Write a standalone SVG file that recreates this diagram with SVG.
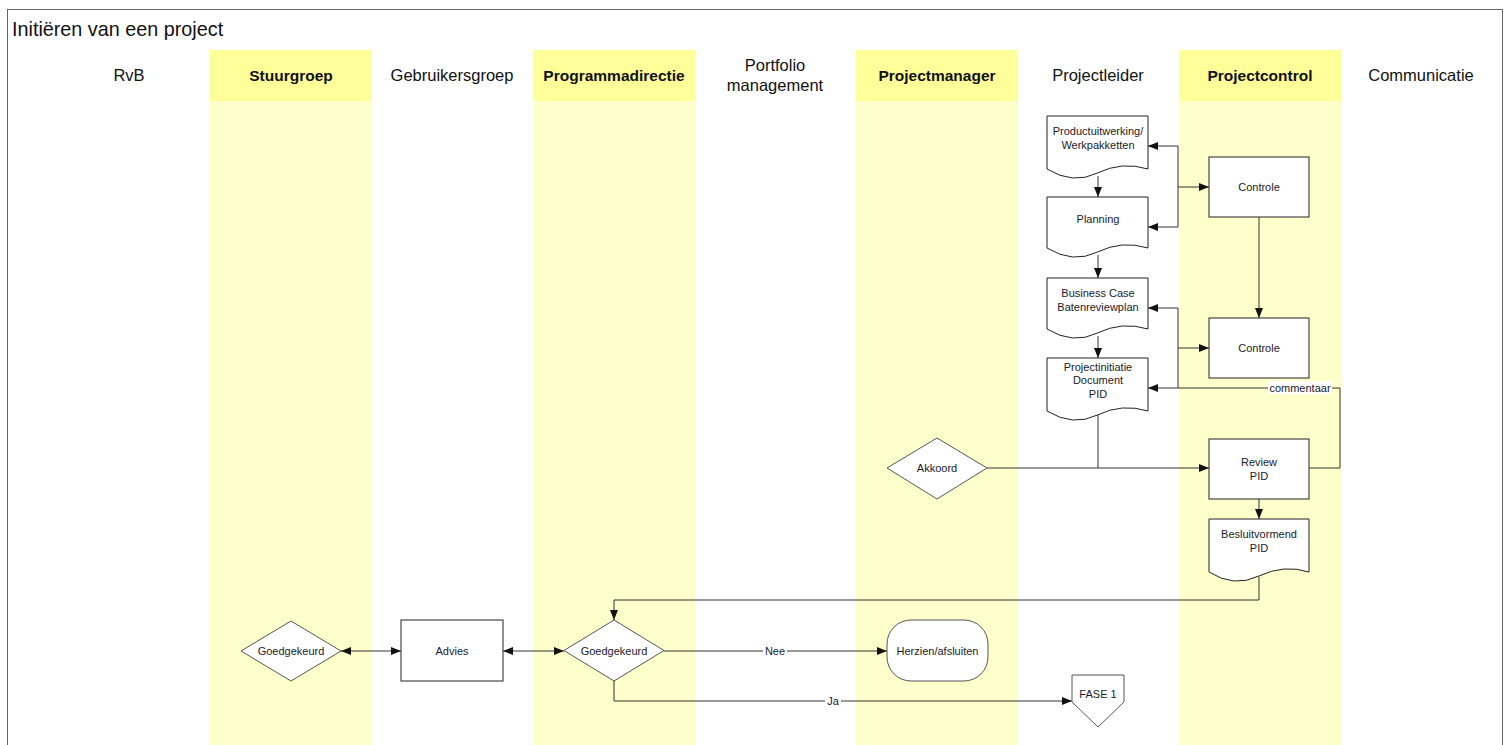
<svg xmlns="http://www.w3.org/2000/svg" width="1510" height="745" viewBox="0 0 1510 745">
  <style>
    .lane { fill: #ffffcc; }
    .lanehdr { fill: #ffff99; }
    .hdr { font-family: "Liberation Sans", Arial, sans-serif; font-size: 16.5px; fill: #111; text-anchor: middle; }
    .hdrb { font-weight: bold; font-size: 15.5px; }
    .title { font-family: "Liberation Sans", Arial, sans-serif; font-size: 19.8px; fill: #111; }
    .shape { fill: #fff; stroke: #222; stroke-width: 1; }
    .dia { fill: #fff; stroke: #555; stroke-width: 1; }
    .lbl { font-family: "Liberation Sans", Arial, sans-serif; font-size: 11px; fill: #1a1a2a; text-anchor: middle; }
    .conn { fill: none; stroke: #333; stroke-width: 1; }
  </style>
  <defs>
    <marker id="arr" viewBox="0 0 10 8" refX="10" refY="4" markerWidth="10" markerHeight="8" markerUnits="userSpaceOnUse" orient="auto-start-reverse">
      <path d="M0,0 L10,4 L0,8 z" fill="#111"/>
    </marker>
  </defs>

  <rect width="1510" height="745" fill="#fff"/>

  <!-- swimlanes -->
  <g id="lanes">
    <rect class="lane" x="210" y="50" width="162" height="700"/>
    <rect class="lane" x="533" y="50" width="162" height="700"/>
    <rect class="lane" x="856" y="50" width="162" height="700"/>
    <rect class="lane" x="1179" y="50" width="162" height="700"/>
    <rect class="lanehdr" x="210" y="50" width="162" height="51"/>
    <rect class="lanehdr" x="533" y="50" width="162" height="51"/>
    <rect class="lanehdr" x="856" y="50" width="162" height="51"/>
    <rect class="lanehdr" x="1179" y="50" width="162" height="51"/>
  </g>

  <!-- frame and title -->
  <rect x="7.5" y="9.5" width="1495" height="745" fill="none" stroke="#666" stroke-width="1"/>
  <text class="title" x="12" y="36">Initiëren van een project</text>

  <g id="headers">
    <text class="hdr" x="129" y="81">RvB</text>
    <text class="hdr hdrb" x="291" y="81">Stuurgroep</text>
    <text class="hdr" x="452" y="81">Gebruikersgroep</text>
    <text class="hdr hdrb" x="614" y="81">Programmadirectie</text>
    <text class="hdr" x="775" y="71">Portfolio</text>
    <text class="hdr" x="775" y="91">management</text>
    <text class="hdr hdrb" x="937" y="81">Projectmanager</text>
    <text class="hdr" x="1098" y="81">Projectleider</text>
    <text class="hdr hdrb" x="1260" y="81">Projectcontrol</text>
    <text class="hdr" x="1421" y="81">Communicatie</text>
  </g>

  <!-- connectors -->
  <g id="connectors">
    <path class="conn" d="M1098,176 V197" marker-end="url(#arr)"/>
    <path class="conn" d="M1098,255 V278" marker-end="url(#arr)"/>
    <path class="conn" d="M1098,336 V358" marker-end="url(#arr)"/>
    <!-- controle 1 loop -->
    <path class="conn" d="M1178,146 H1148" marker-end="url(#arr)"/>
    <path class="conn" d="M1178,146 V227 H1148" marker-end="url(#arr)"/>
    <path class="conn" d="M1178,187 H1209" marker-end="url(#arr)"/>
    <path class="conn" d="M1259,217 V318" marker-end="url(#arr)"/>
    <!-- controle 2 loop -->
    <path class="conn" d="M1178,388 V308 H1148" marker-end="url(#arr)"/>
    <path class="conn" d="M1178,348 H1209" marker-end="url(#arr)"/>
    <!-- commentaar -->
    <path class="conn" d="M1309,468 H1340 V388 H1148" marker-end="url(#arr)"/>
    <rect x="1268" y="381" width="64" height="13" fill="#fff"/>
    <text class="lbl" x="1300" y="392">commentaar</text>
    <!-- PID to review -->
    <path class="conn" d="M1098,414 V468"/>
    <path class="conn" d="M987,468 H1209" marker-end="url(#arr)"/>
    <path class="conn" d="M1259,499 V519" marker-end="url(#arr)"/>
    <path class="conn" d="M1259,577 V600 H614 V620" marker-end="url(#arr)"/>
    <!-- approval -->
    <path class="conn" d="M341,651 H401" marker-start="url(#arr)" marker-end="url(#arr)"/>
    <path class="conn" d="M503,651 H564" marker-start="url(#arr)" marker-end="url(#arr)"/>
    <path class="conn" d="M664,651 H887" marker-end="url(#arr)"/>
    <rect x="763" y="644" width="24" height="13" fill="#fff"/>
    <text class="lbl" x="775" y="655">Nee</text>
    <path class="conn" d="M614,681 V701 H1072" marker-end="url(#arr)"/>
    <rect x="825" y="694" width="16" height="13" fill="#fff"/>
    <text class="lbl" x="833" y="705">Ja</text>
  </g>

  <g id="n-productuitwerking">
    <path class="shape" d="M1047,116 H1148 V169 Q1122,161 1097.5,173 T1047,169 Z"/>
    <text class="lbl" x="1098" y="135">Productuitwerking/</text>
    <text class="lbl" x="1098" y="149">Werkpakketten</text>
  </g>
  <g id="n-planning">
    <path class="shape" d="M1047,197 H1148 V248 Q1122,240 1097.5,252 T1047,248 Z"/>
    <text class="lbl" x="1098" y="223">Planning</text>
  </g>
  <g id="n-businesscase">
    <path class="shape" d="M1047,278 H1148 V329 Q1122,321 1097.5,333 T1047,329 Z"/>
    <text class="lbl" x="1098" y="297">Business Case</text>
    <text class="lbl" x="1098" y="311">Batenreviewplan</text>
  </g>
  <g id="n-pid">
    <path class="shape" d="M1047,358 H1148 V411 Q1122,403 1097.5,415 T1047,411 Z"/>
    <text class="lbl" x="1098" y="371">Projectinitiatie</text>
    <text class="lbl" x="1098" y="384">Document</text>
    <text class="lbl" x="1098" y="398">PID</text>
  </g>
  <g id="n-controle1">
    <rect class="shape" x="1209" y="157" width="100" height="60"/>
    <text class="lbl" x="1259" y="191">Controle</text>
  </g>
  <g id="n-controle2">
    <rect class="shape" x="1209" y="318" width="100" height="60"/>
    <text class="lbl" x="1259" y="352">Controle</text>
  </g>
  <g id="n-review">
    <rect class="shape" x="1209" y="439" width="100" height="60"/>
    <text class="lbl" x="1259" y="466">Review</text>
    <text class="lbl" x="1259" y="480">PID</text>
  </g>
  <g id="n-besluitvormend">
    <path class="shape" d="M1209,519 H1309 V572 Q1284,564 1259,576 T1209,572 Z"/>
    <text class="lbl" x="1259" y="538">Besluitvormend</text>
    <text class="lbl" x="1259" y="552">PID</text>
  </g>
  <g id="n-akkoord">
    <path class="dia" d="M937,438 L987,468 L937,499 L887,468 Z"/>
    <text class="lbl" x="937" y="472">Akkoord</text>
  </g>
  <g id="n-goedgekeurd-sg">
    <path class="dia" d="M291,621 L341,651 L291,681 L241,651 Z"/>
    <text class="lbl" x="291" y="655">Goedgekeurd</text>
  </g>
  <g id="n-advies">
    <rect class="shape" x="401" y="620" width="102" height="61"/>
    <text class="lbl" x="452" y="655">Advies</text>
  </g>
  <g id="n-goedgekeurd-pd">
    <path class="dia" d="M614,620 L664,650.5 L614,681 L564,650.5 Z"/>
    <text class="lbl" x="614" y="655">Goedgekeurd</text>
  </g>
  <g id="n-herzien">
    <rect class="dia" x="887" y="620" width="101" height="61" rx="24" ry="24"/>
    <text class="lbl" x="937.5" y="655">Herzien/afsluiten</text>
  </g>
  <g id="n-fase1">
    <path class="dia" d="M1072,675 H1124 V702 L1098,727 L1072,702 Z"/>
    <text class="lbl" x="1098" y="698">FASE 1</text>
  </g>
</svg>
